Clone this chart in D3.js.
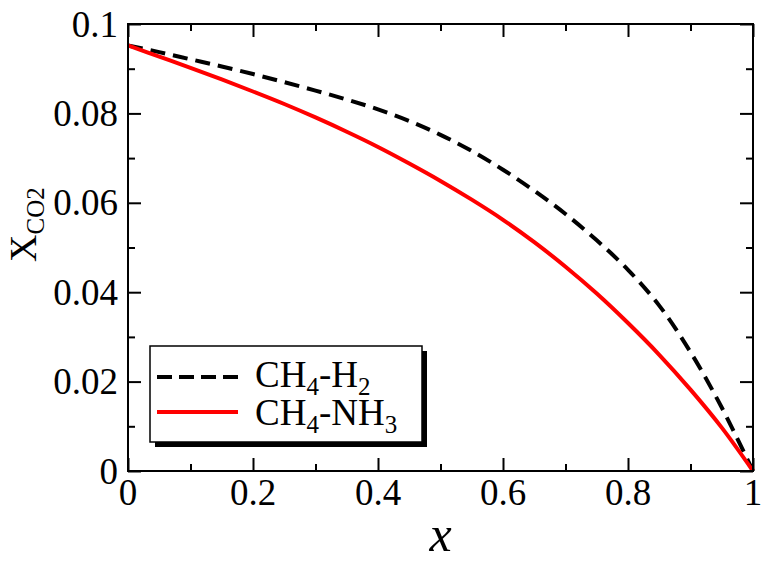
<!DOCTYPE html>
<html>
<head>
<meta charset="utf-8">
<script src="https://cdn.jsdelivr.net/npm/d3@7"></script>
<style>
  body { margin: 0; background: #fff; }
  text { font-family: "Liberation Serif", "Times New Roman", serif; fill: #000; }
  .axis .domain { display: none; }
  .axis line { stroke: #000; stroke-width: 2; }
</style>
</head>
<body>
<div class="wrapper"></div>
<script>
// mole fraction x along the mixture
var xValues = [0, 0.05, 0.1, 0.15, 0.2, 0.25, 0.3, 0.35, 0.4, 0.45, 0.5, 0.55, 0.6, 0.65, 0.7, 0.75, 0.8, 0.85, 0.9, 0.95, 1];
// CH4-H2 (dashed black)
var h2Values = [0.0952, 0.0937, 0.0921, 0.0905, 0.0888, 0.0870, 0.0851, 0.0831, 0.0809, 0.0783, 0.0752, 0.0716, 0.0674, 0.0627, 0.0575, 0.0516, 0.0450, 0.0370, 0.0266, 0.0142, 0];
// CH4-NH3 (solid red)
var nh3Values = [0.0952, 0.0927, 0.0902, 0.0876, 0.0849, 0.0821, 0.0791, 0.0759, 0.0725, 0.0688, 0.0649, 0.0607, 0.0562, 0.0512, 0.0457, 0.0397, 0.0331, 0.0260, 0.0182, 0.0097, 0];

var xTicks = [0, 0.2, 0.4, 0.6, 0.8, 1];
var xTickLabels = ["0", "0.2", "0.4", "0.6", "0.8", "1"];
var xMinor = [0.1, 0.3, 0.5, 0.7, 0.9];
var yTicks = [0, 0.02, 0.04, 0.06, 0.08, 0.1];
var yTickLabels = ["0", "0.02", "0.04", "0.06", "0.08", "0.1"];
var yMinor = [0.01, 0.03, 0.05, 0.07, 0.09];

var width = 767, height = 561;
var plotLeft = 128, plotRight = 753, plotTop = 24, plotBottom = 471;

var svg = d3.select(".wrapper").append("svg")
  .attr("width", width)
  .attr("height", height);

var x = d3.scaleLinear().domain([0, 1]).range([plotLeft, plotRight]);
var y = d3.scaleLinear().domain([0, 0.1]).range([plotBottom, plotTop]);

// inward ticks on all four sides
function ticks(axis, values, size, transform) {
  svg.append("g")
    .attr("class", "axis")
    .attr("transform", transform)
    .call(axis.tickValues(values).tickSize(size).tickFormat(""));
}
ticks(d3.axisBottom(x), xTicks, -13, "translate(0," + plotBottom + ")");
ticks(d3.axisBottom(x), xMinor, -7, "translate(0," + plotBottom + ")");
ticks(d3.axisTop(x), xTicks, -13, "translate(0," + plotTop + ")");
ticks(d3.axisTop(x), xMinor, -7, "translate(0," + plotTop + ")");
ticks(d3.axisLeft(y), yTicks, -13, "translate(" + plotLeft + ",0)");
ticks(d3.axisLeft(y), yMinor, -7, "translate(" + plotLeft + ",0)");
ticks(d3.axisRight(y), yTicks, -13, "translate(" + plotRight + ",0)");
ticks(d3.axisRight(y), yMinor, -7, "translate(" + plotRight + ",0)");

// tick labels
svg.append("g").selectAll("text")
  .data(xTicks)
  .join("text")
  .attr("x", d => x(d))
  .attr("y", plotBottom + 34)
  .attr("text-anchor", "middle")
  .style("font-size", "37px")
  .text((d, i) => xTickLabels[i]);

svg.append("g").selectAll("text")
  .data(yTicks)
  .join("text")
  .attr("x", plotLeft - 10)
  .attr("y", d => y(d) + 12.5)
  .attr("text-anchor", "end")
  .style("font-size", "37px")
  .text((d, i) => yTickLabels[i]);

// curves
var line = d3.line().curve(d3.curveCatmullRom.alpha(0.5));

svg.append("path")
  .datum(xValues.map((d, i) => [x(d), y(h2Values[i])]))
  .attr("d", line)
  .attr("fill", "none")
  .attr("stroke", "#000")
  .attr("stroke-width", 4)
  .attr("stroke-dasharray", "15,8");

svg.append("path")
  .datum(xValues.map((d, i) => [x(d), y(nh3Values[i])]))
  .attr("d", line)
  .attr("fill", "none")
  .attr("stroke", "#ff0000")
  .attr("stroke-width", 4);

// frame
svg.append("rect")
  .attr("x", plotLeft).attr("y", plotTop)
  .attr("width", plotRight - plotLeft).attr("height", plotBottom - plotTop)
  .attr("fill", "none")
  .attr("stroke", "#000")
  .attr("stroke-width", 2);

// axis titles
svg.append("text")
  .attr("x", (plotLeft + plotRight) / 2)
  .attr("y", 551)
  .attr("text-anchor", "middle")
  .style("font-size", "50px")
  .style("font-style", "italic")
  .text("x");

var yTitle = svg.append("text")
  .attr("transform", "translate(36,262) rotate(-90)")
  .style("font-size", "38px");
yTitle.append("tspan").text("X");
yTitle.append("tspan").attr("dy", 8).style("font-size", "25px").text("CO2");

// legend
var lg = svg.append("g");
lg.append("rect")
  .attr("x", 155).attr("y", 351)
  .attr("width", 272).attr("height", 96)
  .attr("fill", "#000");
lg.append("rect")
  .attr("x", 150).attr("y", 346)
  .attr("width", 272).attr("height", 96)
  .attr("fill", "#fff")
  .attr("stroke", "#000")
  .attr("stroke-width", 1.5);

var legendRows = [
  { parts: [["CH", 0], ["4", 1], ["-H", 0], ["2", 1]], color: "#000", dash: "15,7", y: 377, base: 387 },
  { parts: [["CH", 0], ["4", 1], ["-NH", 0], ["3", 1]], color: "#ff0000", dash: null, y: 412, base: 425 }
];

legendRows.forEach(row => {
  lg.append("line")
    .attr("x1", 157).attr("x2", 238)
    .attr("y1", row.y).attr("y2", row.y)
    .attr("stroke", row.color)
    .attr("stroke-width", 4)
    .attr("stroke-dasharray", row.dash);
  var t = lg.append("text")
    .attr("x", 255)
    .attr("y", row.base)
    .style("font-size", "37px");
  var shift = 0;
  row.parts.forEach(p => {
    var dy = p[1] ? 8 - shift : -shift;
    shift = p[1] ? 8 : 0;
    t.append("tspan")
      .attr("dy", dy)
      .style("font-size", p[1] ? "25px" : "37px")
      .text(p[0]);
  });
});
</script>
</body>
</html>
